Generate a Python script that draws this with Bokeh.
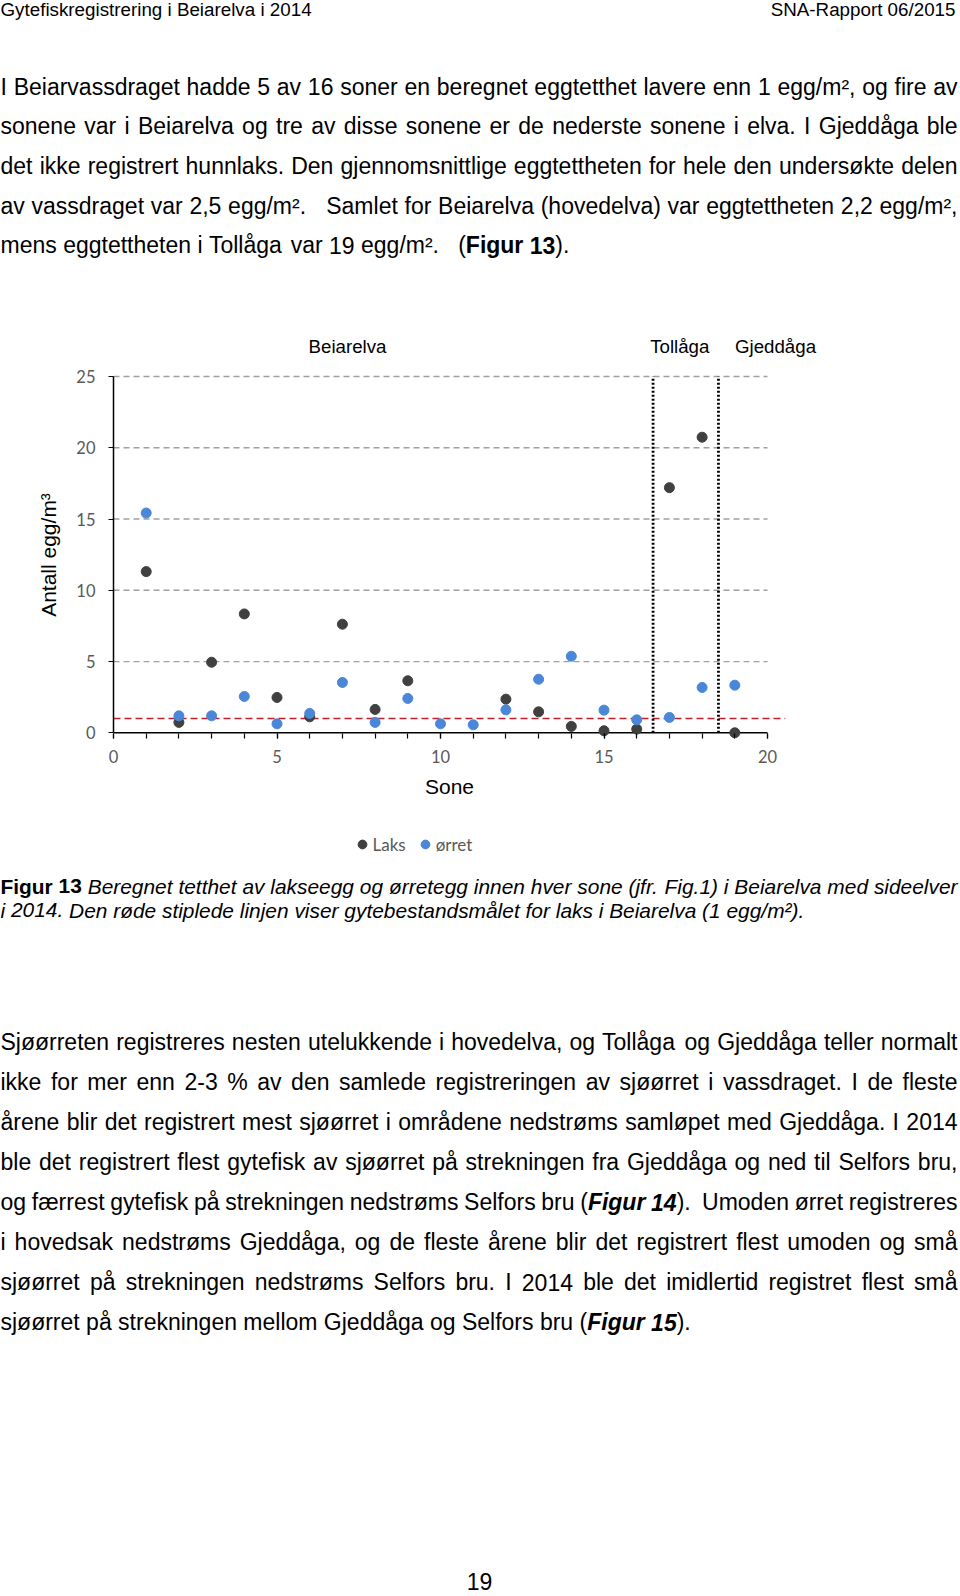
import numpy as np
from bokeh.plotting import figure
from bokeh.layouts import column
from bokeh.models import (Label, Span, Range1d, SingleIntervalTicker, Legend,
                          LegendItem, ColumnDataSource)
from bokeh.embed import file_html
from bokeh.resources import INLINE

# ---------------- data ----------------
zones = list(range(1, 20))
laks_egg = [11.31, 0.73, 4.95, 8.34, 2.48, 1.12, 7.62, 1.64, 3.65, np.nan, np.nan,
            2.36, 1.47, 0.45, 0.14, 0.26, 17.2, 20.74, 0.0]
orret_egg = [15.42, 1.19, 1.19, 2.55, 0.63, 1.36, 3.53, 0.73, 2.41, 0.63, 0.56,
             1.61, 3.76, 5.37, 1.59, 0.91, 1.08, 3.18, 3.34]
series_names = ["Laks", "ørret"]
series_colors = ["#404040", "#4a87d8"]
goal_egg = 1.0
river_bounds = [16.5, 18.5]
river_names = ["Beiarelva", "Tollåga", "Gjeddåga"]
x_axis_max = 20
y_axis_max = 25
tick_step = 5
grid_levels = [5, 10, 15, 20, 25]
x_title = "Sone"
y_title = "Antall egg/m³"

header_left = "Gytefiskregistrering i Beiarelva i 2014"
header_right = "SNA-Rapport 06/2015"
page_number = "19"

N, B, I, BI = "normal", "bold", "italic", "bold italic"
para1 = [
    [("I Beiarvassdraget hadde 5 av 16 soner en beregnet eggtetthet lavere enn 1 egg/m², og fire av", N)],
    [("sonene var i Beiarelva og tre av disse sonene er de nederste sonene i elva. I Gjeddåga ble", N)],
    [("det ikke registrert hunnlaks. Den gjennomsnittlige eggtettheten for hele den undersøkte delen", N)],
    [("av vassdraget var 2,5 egg/m².   Samlet for Beiarelva (hovedelva) var eggtettheten 2,2 egg/m²,", N)],
    [("mens eggtettheten i Tollåga var 19 egg/m².   (", N), ("Figur 13", B), (").", N)],
]
caption = [
    [("Figur 13", B), (" Beregnet tetthet av lakseegg og ørretegg innen hver sone (jfr. Fig.1) i Beiarelva med sideelver", I)],
    [("i 2014. Den røde stiplede linjen viser gytebestandsmålet for laks i Beiarelva (1 egg/m²).", I)],
]
para2 = [
    [("Sjøørreten registreres nesten utelukkende i hovedelva, og Tollåga og Gjeddåga teller normalt", N)],
    [("ikke for mer enn 2-3 % av den samlede registreringen av sjøørret i vassdraget. I de fleste", N)],
    [("årene blir det registrert mest sjøørret i områdene nedstrøms samløpet med Gjeddåga. I 2014", N)],
    [("ble det registrert flest gytefisk av sjøørret på strekningen fra Gjeddåga og ned til Selfors bru,", N)],
    [("og færrest gytefisk på strekningen nedstrøms Selfors bru (", N), ("Figur 14", BI), (").  Umoden ørret registreres", N)],
    [("i hovedsak nedstrøms Gjeddåga, og de fleste årene blir det registrert flest umoden og små", N)],
    [("sjøørret på strekningen nedstrøms Selfors bru. I 2014 ble det imidlertid registret flest små", N)],
    [("sjøørret på strekningen mellom Gjeddåga og Selfors bru (", N), ("Figur 15", BI), (").", N)],
]

# ---------------- page geometry ----------------
W, H = 960, 1596
FONT = "Liberation Sans"
LABEL_DY = 7.0   # measured shift of alphabetic baseline labels

# Arial / Liberation Sans advance widths (1/1000 em)
REG = {' ': 278, '!': 278, '%': 889, '(': 333, ')': 333, ',': 278, '-': 333, '.': 278, '/': 278,
       ':': 278, ';': 278, '²': 333, '³': 333,
       'A': 667, 'B': 667, 'C': 722, 'D': 722, 'E': 667, 'F': 611, 'G': 778, 'H': 722, 'I': 278,
       'J': 500, 'K': 667, 'L': 556, 'M': 833, 'N': 722, 'O': 778, 'P': 667, 'Q': 778, 'R': 722,
       'S': 667, 'T': 611, 'U': 722, 'V': 667, 'W': 944, 'X': 667, 'Y': 667, 'Z': 611,
       'a': 556, 'b': 556, 'c': 500, 'd': 556, 'e': 556, 'f': 278, 'g': 556, 'h': 556, 'i': 222,
       'j': 222, 'k': 500, 'l': 222, 'm': 833, 'n': 556, 'o': 556, 'p': 556, 'q': 556, 'r': 333,
       's': 500, 't': 278, 'u': 556, 'v': 500, 'w': 722, 'x': 500, 'y': 500, 'z': 500,
       'å': 556, 'ø': 611, 'æ': 889}
for d in "0123456789":
    REG[d] = 556
BOLD = {' ': 278, 'F': 611, 'i': 278, 'g': 611, 'u': 611, 'r': 389, '(': 333, ')': 333, '.': 278}
for d in "0123456789":
    BOLD[d] = 556


def char_w(ch, style):
    if "bold" in style:
        return BOLD.get(ch, REG.get(ch, 556) * 1.08)
    return REG.get(ch, 556)


def run_width(text, style, size):
    return sum(char_w(ch, style) for ch in text) * size / 1000.0


def text_fig(y0, y1):
    f = figure(width=W, height=int(round(y1 - y0)), x_range=Range1d(0, W), y_range=Range1d(y1, y0),
               output_backend="svg", toolbar_location=None, min_border=0,
               x_axis_location=None, y_axis_location=None, frame_align=False)
    f.outline_line_color = None
    f.xgrid.visible = False
    f.ygrid.visible = False
    f.background_fill_color = "white"
    f.border_fill_color = "white"
    return f


def put(fig, x, y, text, size, style=N, color="#000000", align="left", font=FONT):
    fig.add_layout(Label(x=x, y=y - LABEL_DY, text=text, text_font=font,
                         text_font_size=f"{size:.2f}px", text_font_style=style,
                         text_color=color, text_align=align, text_baseline="alphabetic"))


def tokenize(runs):
    words = []
    cur = []
    for text, style in runs:
        for ch in text:
            if ch == " ":
                if cur:
                    words.append([cur, 1])
                    cur = []
                elif words:
                    words[-1][1] += 1
            else:
                if cur and cur[-1][1] == style:
                    cur[-1][0] += ch
                else:
                    cur.append([ch, style])
    if cur:
        words.append([cur, 0])
    words[-1][1] = 0
    return words


def layout_para(fig, lines, baselines, size, x0=0.0, x1=957.0):
    sw = 278 * size / 1000.0
    for i, (line, by) in enumerate(zip(lines, baselines)):
        words = tokenize(line)
        nsp = sum(s for _, s in words)
        nat = sum(run_width(t, st, size) for w, _ in words for t, st in w) + nsp * sw
        extra = (x1 - x0 - nat) / nsp if (i < len(lines) - 1 and nsp) else 0.0
        x = x0
        for runs, sp in words:
            for t, st in runs:
                put(fig, x, by, t, size, st)
                x += run_width(t, st, size)
            x += sp * (sw + extra)


BODY = 23.0

# ---------------- chart geometry ----------------
Y_LO, Y_HI = -0.4, 25.35
FL, FR = 113, 175
TOP_PAD = 10
FRAME_TOP = 371
FRAME_H = 367
BOTTOM_PANEL = 82
TOP_H = FRAME_TOP - TOP_PAD
CHART_H = TOP_PAD + FRAME_H + BOTTOM_PANEL
BOT_Y0 = TOP_H + CHART_H

# ---------------- top text block ----------------
top = text_fig(0, TOP_H)
put(top, 0, 16, header_left, 18.8)
put(top, 955, 16, header_right, 18.8, align="right")
layout_para(top, para1, [93 + 39.7 * k for k in range(len(para1))], BODY)
for name, rx in zip(river_names, [347, 679.3, 775]):
    put(top, rx, 353, name, 18.7, align="center")

# ---------------- chart ----------------
p = figure(width=W, height=CHART_H, x_range=Range1d(0, 20.55), y_range=Range1d(Y_LO, Y_HI),
           output_backend="svg", toolbar_location=None, frame_align=False,
           min_border_left=FL, min_border_right=FR, min_border_top=TOP_PAD,
           min_border_bottom=BOTTOM_PANEL)
p.outline_line_color = None
p.xgrid.visible = False
p.ygrid.visible = False
p.background_fill_color = "white"
p.border_fill_color = "white"

p.segment(x0=[0] * len(grid_levels), y0=grid_levels, x1=[x_axis_max] * len(grid_levels), y1=grid_levels,
          line_color="#a0a0a0", line_width=1.3, line_dash="6 4")
p.segment(x0=river_bounds, y0=[0] * len(river_bounds), x1=river_bounds,
          y1=[y_axis_max] * len(river_bounds), line_color="black", line_width=2.8, line_dash="2 2")
p.add_layout(Span(location=goal_egg, dimension="width", line_color="#c0202a", line_width=1.6,
                  line_dash="7 4", level="underlay"))
# x-axis base line at zero
p.segment(x0=[0], y0=[0], x1=[x_axis_max], y1=[0], line_color="black", line_width=1.5)

src = ColumnDataSource(dict(zone=zones, laks=np.array(laks_egg, dtype=float),
                            orret=np.array(orret_egg, dtype=float)))
p.scatter("zone", "laks", source=src, size=10, color=series_colors[0])
p.scatter("zone", "orret", source=src, size=10, color=series_colors[1])

xa = p.xaxis[0]
xa.ticker = SingleIntervalTicker(interval=tick_step, num_minor_ticks=tick_step)
xa.bounds = (0, x_axis_max)
xa.axis_line_color = None
xa.major_tick_in = 5
xa.major_tick_out = 0
xa.minor_tick_in = 5
xa.minor_tick_out = 0
xa.major_tick_line_color = "black"
xa.minor_tick_line_color = "black"
xa.major_tick_line_width = 1.2
xa.minor_tick_line_width = 1.2
xa.major_label_text_font = "Lato"
xa.major_label_text_font_size = "16.5px"
xa.major_label_text_color = "#595959"
xa.major_label_standoff = 11
xa.axis_label = x_title
xa.axis_label_text_font = FONT
xa.axis_label_text_font_size = "21px"
xa.axis_label_text_font_style = "normal"
xa.axis_label_text_color = "#000000"
xa.axis_label_standoff = 9

ya = p.yaxis[0]
ya.ticker = SingleIntervalTicker(interval=tick_step, num_minor_ticks=0)
ya.bounds = (0, y_axis_max)
ya.axis_line_color = "black"
ya.axis_line_width = 1.5
ya.major_tick_in = 0
ya.major_tick_out = 5
ya.major_tick_line_color = "black"
ya.major_tick_line_width = 1.2
ya.minor_tick_line_color = None
ya.major_label_text_font = "Lato"
ya.major_label_text_font_size = "16.5px"
ya.major_label_text_color = "#595959"
ya.major_label_standoff = 13
ya.axis_label = y_title
ya.axis_label_text_font = FONT
ya.axis_label_text_font_size = "21px"
ya.axis_label_text_font_style = "normal"
ya.axis_label_text_color = "#000000"
ya.axis_label_standoff = 13

# ---------------- bottom text block (legend, caption, paragraph) ----------------
bot = text_fig(BOT_Y0, H)
lr1 = bot.scatter(x=[np.nan], y=[np.nan], size=10, color=series_colors[0])
lr2 = bot.scatter(x=[np.nan], y=[np.nan], size=10, color=series_colors[1])
leg_bottom = 844.2 + 11
legend = Legend(items=[LegendItem(label=series_names[0], renderers=[lr1]),
                       LegendItem(label=series_names[1], renderers=[lr2])],
                orientation="horizontal", location=(350.5, H - leg_bottom),
                glyph_width=22, glyph_height=22, label_standoff=0, spacing=8, padding=0, margin=0,
                border_line_color=None, background_fill_alpha=0,
                label_text_font="Lato", label_text_font_size="17px", label_text_color="#595959",
                label_height=16, label_width=10)
bot.add_layout(legend)

layout_para(bot, caption, [892.6, 916.9], 20.9)
layout_para(bot, para2, [1048 + 40.14 * k for k in range(len(para2))], BODY)
put(bot, 479, 1588, page_number, BODY, align="center")

page = column(top, p, bot, spacing=0)
open("out.html", "w").write(file_html(page, INLINE))
